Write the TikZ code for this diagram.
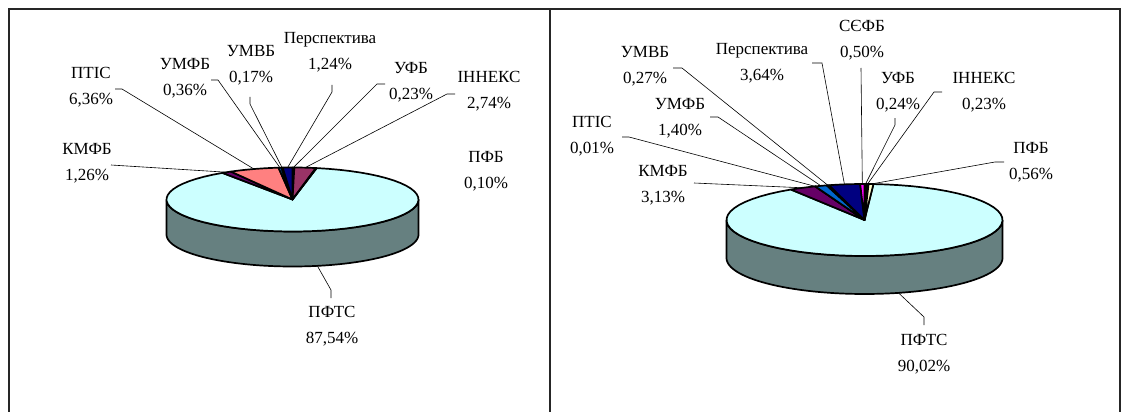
\documentclass[tikz,border=0pt]{standalone}
\usepackage{fontspec}
\setmainfont{Liberation Serif}
\definecolor{cUFB}{HTML}{9999FF}
\definecolor{cINN}{HTML}{993366}
\definecolor{cPFB}{HTML}{FFFFCC}
\definecolor{cPFTS}{HTML}{CCFFFF}
\definecolor{cPFTSside}{HTML}{668080}
\definecolor{cKMFB}{HTML}{660066}
\definecolor{cPTIS}{HTML}{FF8080}
\definecolor{cUMFB}{HTML}{0066CC}
\definecolor{cUMVB}{HTML}{CCCCFF}
\definecolor{cPersp}{HTML}{000080}
\definecolor{cSEFB}{HTML}{FF00FF}
% #1 cx, #2 cy, #3 rx, #4 ry, #5 start, #6 end, #7 colour
\newcommand\pieslice[7]{\filldraw[pieedge,fill=#7] (#1,#2) -- plot[domain=#5:#6,samples=60] ({#1+#3*sin(\x)},{#2-#4*cos(\x)}) -- cycle;}
% #1 cx, #2 cy, #3 rx, #4 ry, #5 height
\newcommand\pieside[5]{\filldraw[pieedge,fill=cPFTSside] plot[domain=90:270,samples=80] ({#1+#3*sin(\x)},{#2-#4*cos(\x)}) -- plot[domain=270:90,samples=80] ({#1+#3*sin(\x)},{#2+#5-#4*cos(\x)}) -- cycle;}
\begin{document}
\begin{tikzpicture}[x=1pt,y=-1pt,
  pieedge/.style={draw=black,line width=1.7pt,line join=round},
  leader/.style={draw=black,line width=0.6pt},
  lbl/.style={align=center,font=\fontsize{17}{26}\selectfont,inner sep=0pt},
  frame/.style={draw=black!85,line width=1.5pt}]
\useasboundingbox (0,0) rectangle (1125,412);
\fill[white] (0,0) rectangle (1125,412);
\draw[frame] (9,412) -- (9,9) -- (1120,9) -- (1120,412);
\draw[frame] (550,9) -- (550,412);

% ---------- left pie ----------
\pieside{292.5}{199.5}{126}{32}{35}
\pieslice{292.5}{199.5}{126}{32}{11.052}{326.196}{cPFTS}
\pieslice{292.5}{199.5}{126}{32}{0}{0.828}{cUFB}
\pieslice{292.5}{199.5}{126}{32}{0.828}{10.692}{cINN}
\pieslice{292.5}{199.5}{126}{32}{10.692}{11.052}{cPFB}
\pieslice{292.5}{199.5}{126}{32}{326.196}{330.732}{cKMFB}
\pieslice{292.5}{199.5}{126}{32}{330.732}{353.628}{cPTIS}
\pieslice{292.5}{199.5}{126}{32}{353.628}{354.924}{cUMFB}
\pieslice{292.5}{199.5}{126}{32}{354.924}{355.536}{cUMVB}
\pieslice{292.5}{199.5}{126}{32}{355.536}{360}{cPersp}

\node[lbl] (lPersp) at (330,52) {Перспектива\\1,24\%};
\node[lbl] (lUMVB) at (251,65) {УМВБ\\0,17\%};
\node[lbl] (lUMFB) at (185,78) {УМФБ\\0,36\%};
\node[lbl] (lPTIS) at (91,87) {ПТІС\\6,36\%};
\node[lbl] (lUFB) at (411,82) {УФБ\\0,23\%};
\node[lbl] (lINN) at (489,91) {ІННЕКС\\2,74\%};
\node[lbl] (lKMFB) at (87,163) {КМФБ\\1,26\%};
\node[lbl] (lPFB) at (486,171) {ПФБ\\0,10\%};
\node[lbl] (lPFTS) at (332,326) {ПФТС\\87,54\%};

\coordinate (lKMFBe) at ({292.5+126*sin(328.464)},{199.5-32*cos(328.464)});
\coordinate (lPTISe) at ({292.5+126*sin(342.18)},{199.5-32*cos(342.18)});
\coordinate (lUMFBe) at ({292.5+126*sin(354.276)},{199.5-32*cos(354.276)});
\coordinate (lUMVBe) at ({292.5+126*sin(355.23)},{199.5-32*cos(355.23)});
\coordinate (lPerspe) at ({292.5+126*sin(357.768)},{199.5-32*cos(357.768)});
\coordinate (lUFBe) at ({292.5+126*sin(0.414)},{199.5-32*cos(0.414)});
\coordinate (lINNe) at ({292.5+126*sin(5.76)},{199.5-32*cos(5.76)});
\coordinate (lPFTSe) at ({292.5+126*sin(168.624)},{199.5+35-32*cos(168.624)});

\coordinate (lKMFBa) at (111,165);
\coordinate (lPTISa) at (115,89); \coordinate (lPTISb) at (122,89);
\coordinate (lUMFBa) at (211,80); \coordinate (lUMFBb) at (218,80);
\coordinate (lUMVBa) at (250,97); \coordinate (lUMVBb) at (250,104);
\coordinate (lPerspa) at (332,85); \coordinate (lPerspb) at (332,92);
\coordinate (lUFBa) at (385,84); \coordinate (lUFBb) at (377,84);
\coordinate (lINNa) at (455,94); \coordinate (lINNb) at (447,94);
\coordinate (lPFTSa) at (331,298); \coordinate (lPFTSb) at (331,290);

\draw[leader] (lKMFBa) -- (lKMFBe);
\draw[leader] (lPTISa) -- (lPTISb) -- (lPTISe);
\draw[leader] (lUMFBa) -- (lUMFBb) -- (lUMFBe);
\draw[leader] (lUMVBa) -- (lUMVBb) -- (lUMVBe);
\draw[leader] (lPerspa) -- (lPerspb) -- (lPerspe);
\draw[leader] (lUFBa) -- (lUFBb) -- (lUFBe);
\draw[leader] (lINNa) -- (lINNb) -- (lINNe);
\draw[leader] (lPFTSa) -- (lPFTSb) -- (lPFTSe);

% ---------- right pie ----------
\pieside{864.5}{220}{138}{36}{38}
\pieslice{864.5}{220}{138}{36}{3.708}{327.78}{cPFTS}
\pieslice{864.5}{220}{138}{36}{0}{0.864}{cUFB}
\pieslice{864.5}{220}{138}{36}{0.864}{1.692}{cINN}
\pieslice{864.5}{220}{138}{36}{1.692}{3.708}{cPFB}
\pieslice{864.5}{220}{138}{36}{327.78}{339.048}{cKMFB}
\pieslice{864.5}{220}{138}{36}{339.048}{339.084}{cPTIS}
\pieslice{864.5}{220}{138}{36}{339.084}{344.124}{cUMFB}
\pieslice{864.5}{220}{138}{36}{344.124}{345.096}{cUMVB}
\pieslice{864.5}{220}{138}{36}{345.096}{358.2}{cPersp}
\pieslice{864.5}{220}{138}{36}{358.2}{360}{cSEFB}

\node[lbl] (rSEFB) at (862,40) {СЄФБ\\0,50\%};
\node[lbl] (rPersp) at (762,63) {Перспектива\\3,64\%};
\node[lbl] (rUMVB) at (645,66) {УМВБ\\0,27\%};
\node[lbl] (rUFB) at (898,92) {УФБ\\0,24\%};
\node[lbl] (rINN) at (984,92) {ІННЕКС\\0,23\%};
\node[lbl] (rUMFB) at (680,118) {УМФБ\\1,40\%};
\node[lbl] (rPTIS) at (592,136) {ПТІС\\0,01\%};
\node[lbl] (rKMFB) at (663,185) {КМФБ\\3,13\%};
\node[lbl] (rPFB) at (1031,162) {ПФБ\\0,56\%};
\node[lbl] (rPFTS) at (924,354) {ПФТС\\90,02\%};

\coordinate (rKMFBe) at ({864.5+138*sin(333.414)},{220-36*cos(333.414)});
\coordinate (rPTISe) at ({864.5+138*sin(339.066)},{220-36*cos(339.066)});
\coordinate (rUMFBe) at ({864.5+138*sin(341.604)},{220-36*cos(341.604)});
\coordinate (rUMVBe) at ({864.5+138*sin(344.61)},{220-36*cos(344.61)});
\coordinate (rPerspe) at ({864.5+138*sin(351.648)},{220-36*cos(351.648)});
\coordinate (rSEFBe) at ({864.5+138*sin(359.1)},{220-36*cos(359.1)});
\coordinate (rUFBe) at ({864.5+138*sin(0.432)},{220-36*cos(0.432)});
\coordinate (rINNe) at ({864.5+138*sin(1.278)},{220-36*cos(1.278)});
\coordinate (rPFBe) at ({864.5+138*sin(2.7)},{220-36*cos(2.7)});
\coordinate (rPFTSe) at ({864.5+138*sin(165.744)},{220+38-36*cos(165.744)});

\coordinate (rKMFBa) at (694,183);
\coordinate (rPTISa) at (622,137); \coordinate (rPTISb) at (629,137);
\coordinate (rUMFBa) at (710,117); \coordinate (rUMFBb) at (718,117);
\coordinate (rUMVBa) at (673,68); \coordinate (rUMVBb) at (682,68);
\coordinate (rPerspa) at (812,63); \coordinate (rPerspb) at (822,63);
\coordinate (rSEFBa) at (861,68);
\coordinate (rUFBa) at (895,118); \coordinate (rUFBb) at (895,125);
\coordinate (rINNa) at (942,92); \coordinate (rINNb) at (934,92);
\coordinate (rPFBa) at (1004,162); \coordinate (rPFBb) at (995,162);
\coordinate (rPFTSa) at (924,325); \coordinate (rPFTSb) at (924,317);

\draw[leader] (rKMFBa) -- (rKMFBe);
\draw[leader] (rPTISa) -- (rPTISb) -- (rPTISe);
\draw[leader] (rUMFBa) -- (rUMFBb) -- (rUMFBe);
\draw[leader] (rUMVBa) -- (rUMVBb) -- (rUMVBe);
\draw[leader] (rPerspa) -- (rPerspb) -- (rPerspe);
\draw[leader] (rSEFBa) -- (rSEFBe);
\draw[leader] (rUFBa) -- (rUFBb) -- (rUFBe);
\draw[leader] (rINNa) -- (rINNb) -- (rINNe);
\draw[leader] (rPFBa) -- (rPFBb) -- (rPFBe);
\draw[leader] (rPFTSa) -- (rPFTSb) -- (rPFTSe);
\end{tikzpicture}
\end{document}
